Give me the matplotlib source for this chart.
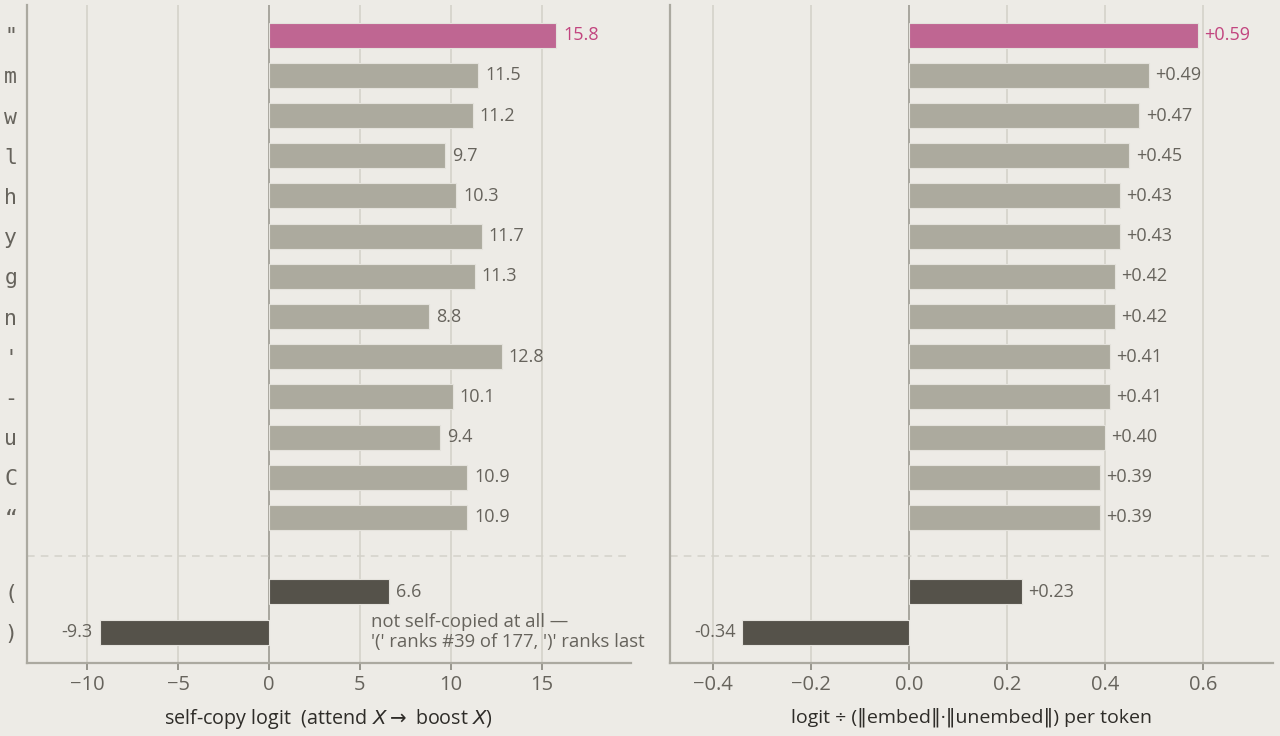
import numpy as np
import matplotlib
matplotlib.use("Agg")
import matplotlib.pyplot as plt

plt.rcParams['font.family'] = ['Open Sans', 'DejaVu Sans']

# data
tokens = ['"', 'm', 'w', 'l', 'h', 'y', 'g', 'n', "'", '-', 'u', 'C', '\u201c', '(', ')']
self_copy = [15.8, 11.5, 11.2, 9.7, 10.3, 11.7, 11.3, 8.8, 12.8, 10.1, 9.4, 10.9, 10.9, 6.6, -9.3]
normed = [0.59, 0.49, 0.47, 0.45, 0.43, 0.43, 0.42, 0.42, 0.41, 0.41, 0.40, 0.39, 0.39, 0.23, -0.34]
kind = ['top'] + ['mid'] * 12 + ['paren', 'paren']

bg = '#EDEBE6'
colors = {'top': '#BF6692', 'mid': '#ACAA9E', 'paren': '#55524A'}
txt = '#66635C'
pink_txt = '#C2457F'

# rows: 13 tokens, then a gap, then the two brackets
ypos = np.array(list(range(13)) + [13.85, 14.85])

fig = plt.figure(figsize=(12.8, 7.36), dpi=100, facecolor=bg)
ax1 = fig.add_axes([27/1280, 1 - 663/736, 604/1280, 658/736])
ax2 = fig.add_axes([670/1280, 1 - 663/736, 603/1280, 658/736])


def draw(ax, vals, fmt, off, xlim, ticks, ticklabels):
    ax.set_facecolor(bg)
    for s in ['top', 'right']:
        ax.spines[s].set_visible(False)
    for s in ['left', 'bottom']:
        ax.spines[s].set_color('#ABA9A0')
        ax.spines[s].set_linewidth(1.6)
    ax.set_xlim(*xlim)
    ax.set_ylim(15.62, -0.75)
    ax.set_xticks(ticks)
    ax.set_xticklabels(ticklabels)
    ax.grid(axis='x', color='#D6D4CC', linewidth=1.3)
    ax.set_axisbelow(True)
    ax.axvline(0, color='#A5A39A', linewidth=1.3, zorder=1)
    ax.axhline(12.95, color='#D3D1CA', linewidth=1.1, linestyle=(0, (5, 4)), zorder=1)
    cs = [colors[k] for k in kind]
    ax.barh(ypos, vals, height=0.62, color=cs, edgecolor='#E4E2DC', linewidth=0.8, zorder=2)
    for y, v, k in zip(ypos, vals, kind):
        c = pink_txt if k == 'top' else txt
        if v >= 0:
            ax.text(v + off, y, fmt(v), va='center', ha='left', color=c, fontsize=13)
        else:
            ax.text(v - off, y, fmt(v), va='center', ha='right', color=c, fontsize=13)
    ax.tick_params(axis='x', colors='#8F8D85', labelcolor=txt, labelsize=14.5, length=5, width=1.3)
    ax.tick_params(axis='y', length=0)


draw(ax1, self_copy, lambda v: f'{v:.1f}', 0.38, (-13.3, 19.9),
     [-10, -5, 0, 5, 10, 15], ['\u221210', '\u22125', '0', '5', '10', '15'])
ax1.set_yticks(ypos)
ax1.set_yticklabels(tokens, fontfamily='DejaVu Sans Mono', fontsize=15.5, color=txt)
ax1.tick_params(axis='y', pad=7)
ax1.set_xlabel(r'self-copy logit  (attend $X \rightarrow$ boost $X$)', fontsize=14.2,
               color='#2E2C28', labelpad=9)
ax1.text(5.6, 14.85, "not self-copied at all \u2014\n'(' ranks #39 of 177, ')' ranks last",
         fontsize=13.3, color=txt, va='center', ha='left', linespacing=1.1)

draw(ax2, normed, lambda v: f'{v:+.2f}' if v >= 0 else f'{v:.2f}', 0.013, (-0.488, 0.743),
     [-0.4, -0.2, 0.0, 0.2, 0.4, 0.6], ['\u22120.4', '\u22120.2', '0.0', '0.2', '0.4', '0.6'])
ax2.set_yticks([])
ax2.set_xlabel('logit \u00f7 (\u2016embed\u2016\u00b7\u2016unembed\u2016) per token', fontsize=14,
               color='#2E2C28', labelpad=9)

fig.savefig('out.png', dpi=100, facecolor=bg)
